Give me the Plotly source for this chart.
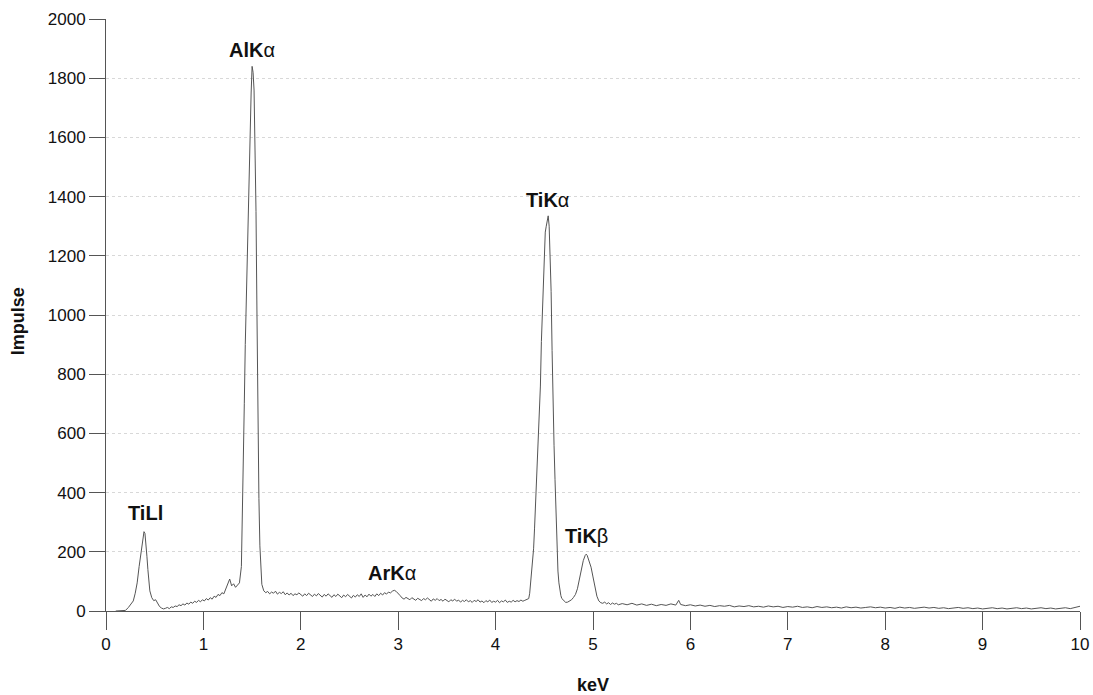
import plotly.graph_objects as go

energy_kev = [
    0.10, 0.15, 0.20, 0.23, 0.26, 0.28, 0.30, 0.32, 0.34, 0.36, 0.38, 0.39, 0.40, 0.41, 0.42, 0.43, 0.44, 0.45,
    0.47, 0.49, 0.51, 0.53, 0.55, 0.57, 0.59, 0.61, 0.63, 0.65, 0.67, 0.69, 0.71, 0.73, 0.75, 0.77, 0.79,
    0.81, 0.83, 0.85, 0.87, 0.89, 0.91, 0.93, 0.95, 0.97, 0.99, 1.01, 1.03, 1.05, 1.07, 1.09, 1.11, 1.13,
    1.15, 1.17, 1.19, 1.21, 1.23, 1.25, 1.27, 1.29, 1.31, 1.33, 1.35, 1.37, 1.39, 1.40, 1.41, 1.42, 1.43,
    1.44, 1.45, 1.46, 1.47, 1.48, 1.49, 1.50, 1.51, 1.52, 1.53, 1.54, 1.55, 1.56, 1.57, 1.58, 1.59, 1.60,
    1.62, 1.64, 1.66, 1.68, 1.70, 1.72, 1.74, 1.76, 1.78, 1.80, 1.82, 1.84, 1.86, 1.88, 1.90, 1.92, 1.94,
    1.96, 1.98, 2.00, 2.02, 2.04, 2.06, 2.08, 2.10, 2.12, 2.14, 2.16, 2.18, 2.20, 2.22, 2.24, 2.26, 2.28,
    2.30, 2.32, 2.34, 2.36, 2.38, 2.40, 2.42, 2.44, 2.46, 2.48, 2.50, 2.52, 2.54, 2.56, 2.58, 2.60, 2.62,
    2.64, 2.66, 2.68, 2.70, 2.72, 2.74, 2.76, 2.78, 2.80, 2.82, 2.84, 2.86, 2.88, 2.90, 2.92, 2.94, 2.96,
    2.98, 3.00, 3.02, 3.04, 3.06, 3.08, 3.10, 3.12, 3.14, 3.16, 3.18, 3.20, 3.22, 3.24, 3.26, 3.28, 3.30,
    3.32, 3.34, 3.36, 3.38, 3.40, 3.42, 3.44, 3.46, 3.48, 3.50, 3.52, 3.54, 3.56, 3.58, 3.60, 3.62, 3.64,
    3.66, 3.68, 3.70, 3.72, 3.74, 3.76, 3.78, 3.80, 3.82, 3.84, 3.86, 3.88, 3.90, 3.92, 3.94, 3.96, 3.98,
    4.00, 4.02, 4.04, 4.06, 4.08, 4.10, 4.12, 4.14, 4.16, 4.18, 4.20, 4.22, 4.24, 4.26, 4.28, 4.30, 4.32,
    4.34, 4.35, 4.36, 4.37, 4.38, 4.39, 4.40, 4.41, 4.42, 4.43, 4.44, 4.45, 4.46, 4.47, 4.48, 4.49, 4.50,
    4.51, 4.52, 4.53, 4.54, 4.55, 4.56, 4.57, 4.58, 4.59, 4.60, 4.61, 4.62, 4.63, 4.64, 4.65, 4.66, 4.67,
    4.68, 4.70, 4.72, 4.74, 4.76, 4.78, 4.80, 4.82, 4.84, 4.86, 4.88, 4.90, 4.92, 4.93, 4.94, 4.96, 4.98,
    5.00, 5.02, 5.04, 5.06, 5.08, 5.10, 5.12, 5.14, 5.16, 5.18, 5.20, 5.22, 5.24, 5.26, 5.30, 5.35, 5.40,
    5.45, 5.50, 5.55, 5.60, 5.65, 5.70, 5.75, 5.80, 5.85, 5.88, 5.90, 5.95, 6.00, 6.05, 6.10, 6.15, 6.20,
    6.25, 6.30, 6.35, 6.40, 6.45, 6.50, 6.55, 6.60, 6.65, 6.70, 6.75, 6.80, 6.85, 6.90, 6.95, 7.00, 7.05,
    7.10, 7.15, 7.20, 7.25, 7.30, 7.35, 7.40, 7.45, 7.50, 7.55, 7.60, 7.65, 7.70, 7.75, 7.80, 7.85, 7.90,
    7.95, 8.00, 8.05, 8.10, 8.15, 8.20, 8.25, 8.30, 8.35, 8.40, 8.45, 8.50, 8.55, 8.60, 8.65, 8.70, 8.75,
    8.80, 8.85, 8.90, 8.95, 9.00, 9.05, 9.10, 9.15, 9.20, 9.25, 9.30, 9.35, 9.40, 9.45, 9.50, 9.55, 9.60,
    9.65, 9.70, 9.75, 9.80, 9.85, 9.90, 9.95, 10.00,
]

impulse = [
    0, 0, 2, 12, 25, 34, 60, 95, 150, 205, 255, 268, 262, 230, 185, 140, 100, 68,
    45, 35, 38, 25, 15, 10, 7, 9, 12, 8, 14, 12, 17, 15, 21, 18, 24,
    20, 27, 23, 30, 26, 33, 29, 36, 31, 38, 34, 42, 37, 45, 40, 50, 46,
    56, 52, 62, 58, 75, 95, 108, 85, 92, 80, 88, 95, 150, 300, 450, 700, 900,
    1050, 1200, 1380, 1500, 1620, 1750, 1840, 1820, 1760, 1600, 1350, 1000, 620, 380, 220, 130, 90,
    68, 62, 66, 58, 64, 60, 67, 57, 63, 59, 65, 55, 61, 54, 60, 52, 58,
    55, 61, 56, 50, 58, 52, 60, 54, 49, 57, 51, 59, 53, 47, 56, 50, 58,
    52, 46, 55, 49, 57, 51, 45, 54, 48, 56, 50, 44, 53, 47, 55, 49, 58,
    46, 54, 48, 57, 50, 56, 49, 58, 52, 60, 54, 62, 57, 64, 61, 67, 70,
    66, 60, 52, 44, 40, 46, 42, 38, 45, 40, 36, 43, 39, 35, 42, 38, 44,
    37, 33, 41, 36, 42, 35, 39, 33, 40, 36, 31, 38, 34, 40, 33, 37, 30,
    36, 32, 38, 31, 35, 29, 36, 32, 38, 30, 34, 28, 35, 31, 37, 29, 33,
    30, 36, 28, 34, 31, 37, 29, 33, 30, 36, 31, 35, 32, 37, 33, 36, 38,
    42, 60, 95, 130, 170, 210, 280, 360, 445, 540, 620, 700, 760, 910, 1000, 1140, 1230,
    1280, 1300, 1320, 1335, 1300, 1210, 1080, 880, 680, 560, 445, 320, 230, 135, 95, 70, 52,
    42, 34, 29, 30, 33, 38, 46, 56, 75, 105, 140, 170, 188, 192, 188, 170, 148,
    115, 76, 50, 34, 28, 26, 30, 24, 28, 22, 27, 23, 26, 21, 25, 21, 26,
    20, 24, 19, 23, 18, 22, 19, 24, 20, 36, 22, 18, 21, 17, 20, 16, 19,
    15, 18, 16, 19, 14, 17, 15, 18, 14, 16, 13, 17, 14, 16, 12, 15, 13,
    16, 12, 14, 11, 15, 12, 14, 11, 13, 10, 14, 11, 13, 10, 12, 14, 11,
    13, 10, 12, 9, 13, 10, 12, 9, 11, 13, 10, 12, 9, 11, 8, 10, 12,
    9, 11, 8, 10, 7, 9, 11, 8, 10, 7, 9, 11, 8, 10, 7, 9, 11,
    8, 10, 7, 9, 11, 8, 12, 16,
]

peak_names = ["TiLl", "AlK", "ArK", "TiK", "TiK"]
peak_greek = ["", "α", "α", "α", "β"]
peak_energy = [0.41, 1.50, 2.94, 4.53, 4.93]
peak_label_y = [332, 1895, 128, 1390, 253]

y_ticks = [0, 200, 400, 600, 800, 1000, 1200, 1400, 1600, 1800, 2000]
x_ticks = [0, 1, 2, 3, 4, 5, 6, 7, 8, 9, 10]

FONT = "Liberation Sans, Arial, sans-serif"

fig = go.Figure()
fig.add_trace(go.Scatter(
    x=energy_kev, y=impulse, mode="lines",
    line=dict(color="#555555", width=1),
    hoverinfo="x+y", showlegend=False,
))

for name, greek, ex, ey in zip(peak_names, peak_greek, peak_energy, peak_label_y):
    fig.add_annotation(
        x=ex, y=ey, xref="x", yref="y",
        text=f"<b>{name}</b>{greek}",
        showarrow=False,
        font=dict(family=FONT, size=20, color="#111111"),
    )

# axis titles
fig.add_annotation(
    x=0.5, y=-0.125, xref="paper", yref="paper", yanchor="middle",
    text="<b>keV</b>", showarrow=False,
    font=dict(family=FONT, size=18, color="#111111"),
)
fig.add_annotation(
    x=-0.09, y=0.49, xref="paper", yref="paper", xanchor="center", yanchor="middle",
    text="<b>Impulse</b>", showarrow=False, textangle=-90,
    font=dict(family=FONT, size=18, color="#111111"),
)

tick_font = dict(family=FONT, size=17, color="#111111")

fig.update_layout(
    width=1093, height=695,
    margin=dict(l=106, r=13, t=19, b=84, autoexpand=False),
    paper_bgcolor="white", plot_bgcolor="white",
    font=dict(family=FONT, size=17, color="#111111"),
    xaxis=dict(
        range=[0, 10], tickvals=x_ticks, ticktext=[str(v) for v in x_ticks],
        tickfont=tick_font,
        showline=True, linecolor="#555555", linewidth=1,
        ticks="outside", ticklen=18, tickcolor="#555555", tickwidth=1,
        showgrid=False, zeroline=False, automargin=False,
    ),
    yaxis=dict(
        range=[0, 2000], tickvals=y_ticks, ticktext=[str(v) for v in y_ticks],
        tickfont=tick_font,
        showline=True, linecolor="#555555", linewidth=1,
        ticks="outside", ticklen=16, tickcolor="#555555", tickwidth=1,
        showgrid=True, gridcolor="#d8d8d8", griddash="dot", gridwidth=1,
        zeroline=False, automargin=False,
    ),
)

fig.write_html("out.html")
